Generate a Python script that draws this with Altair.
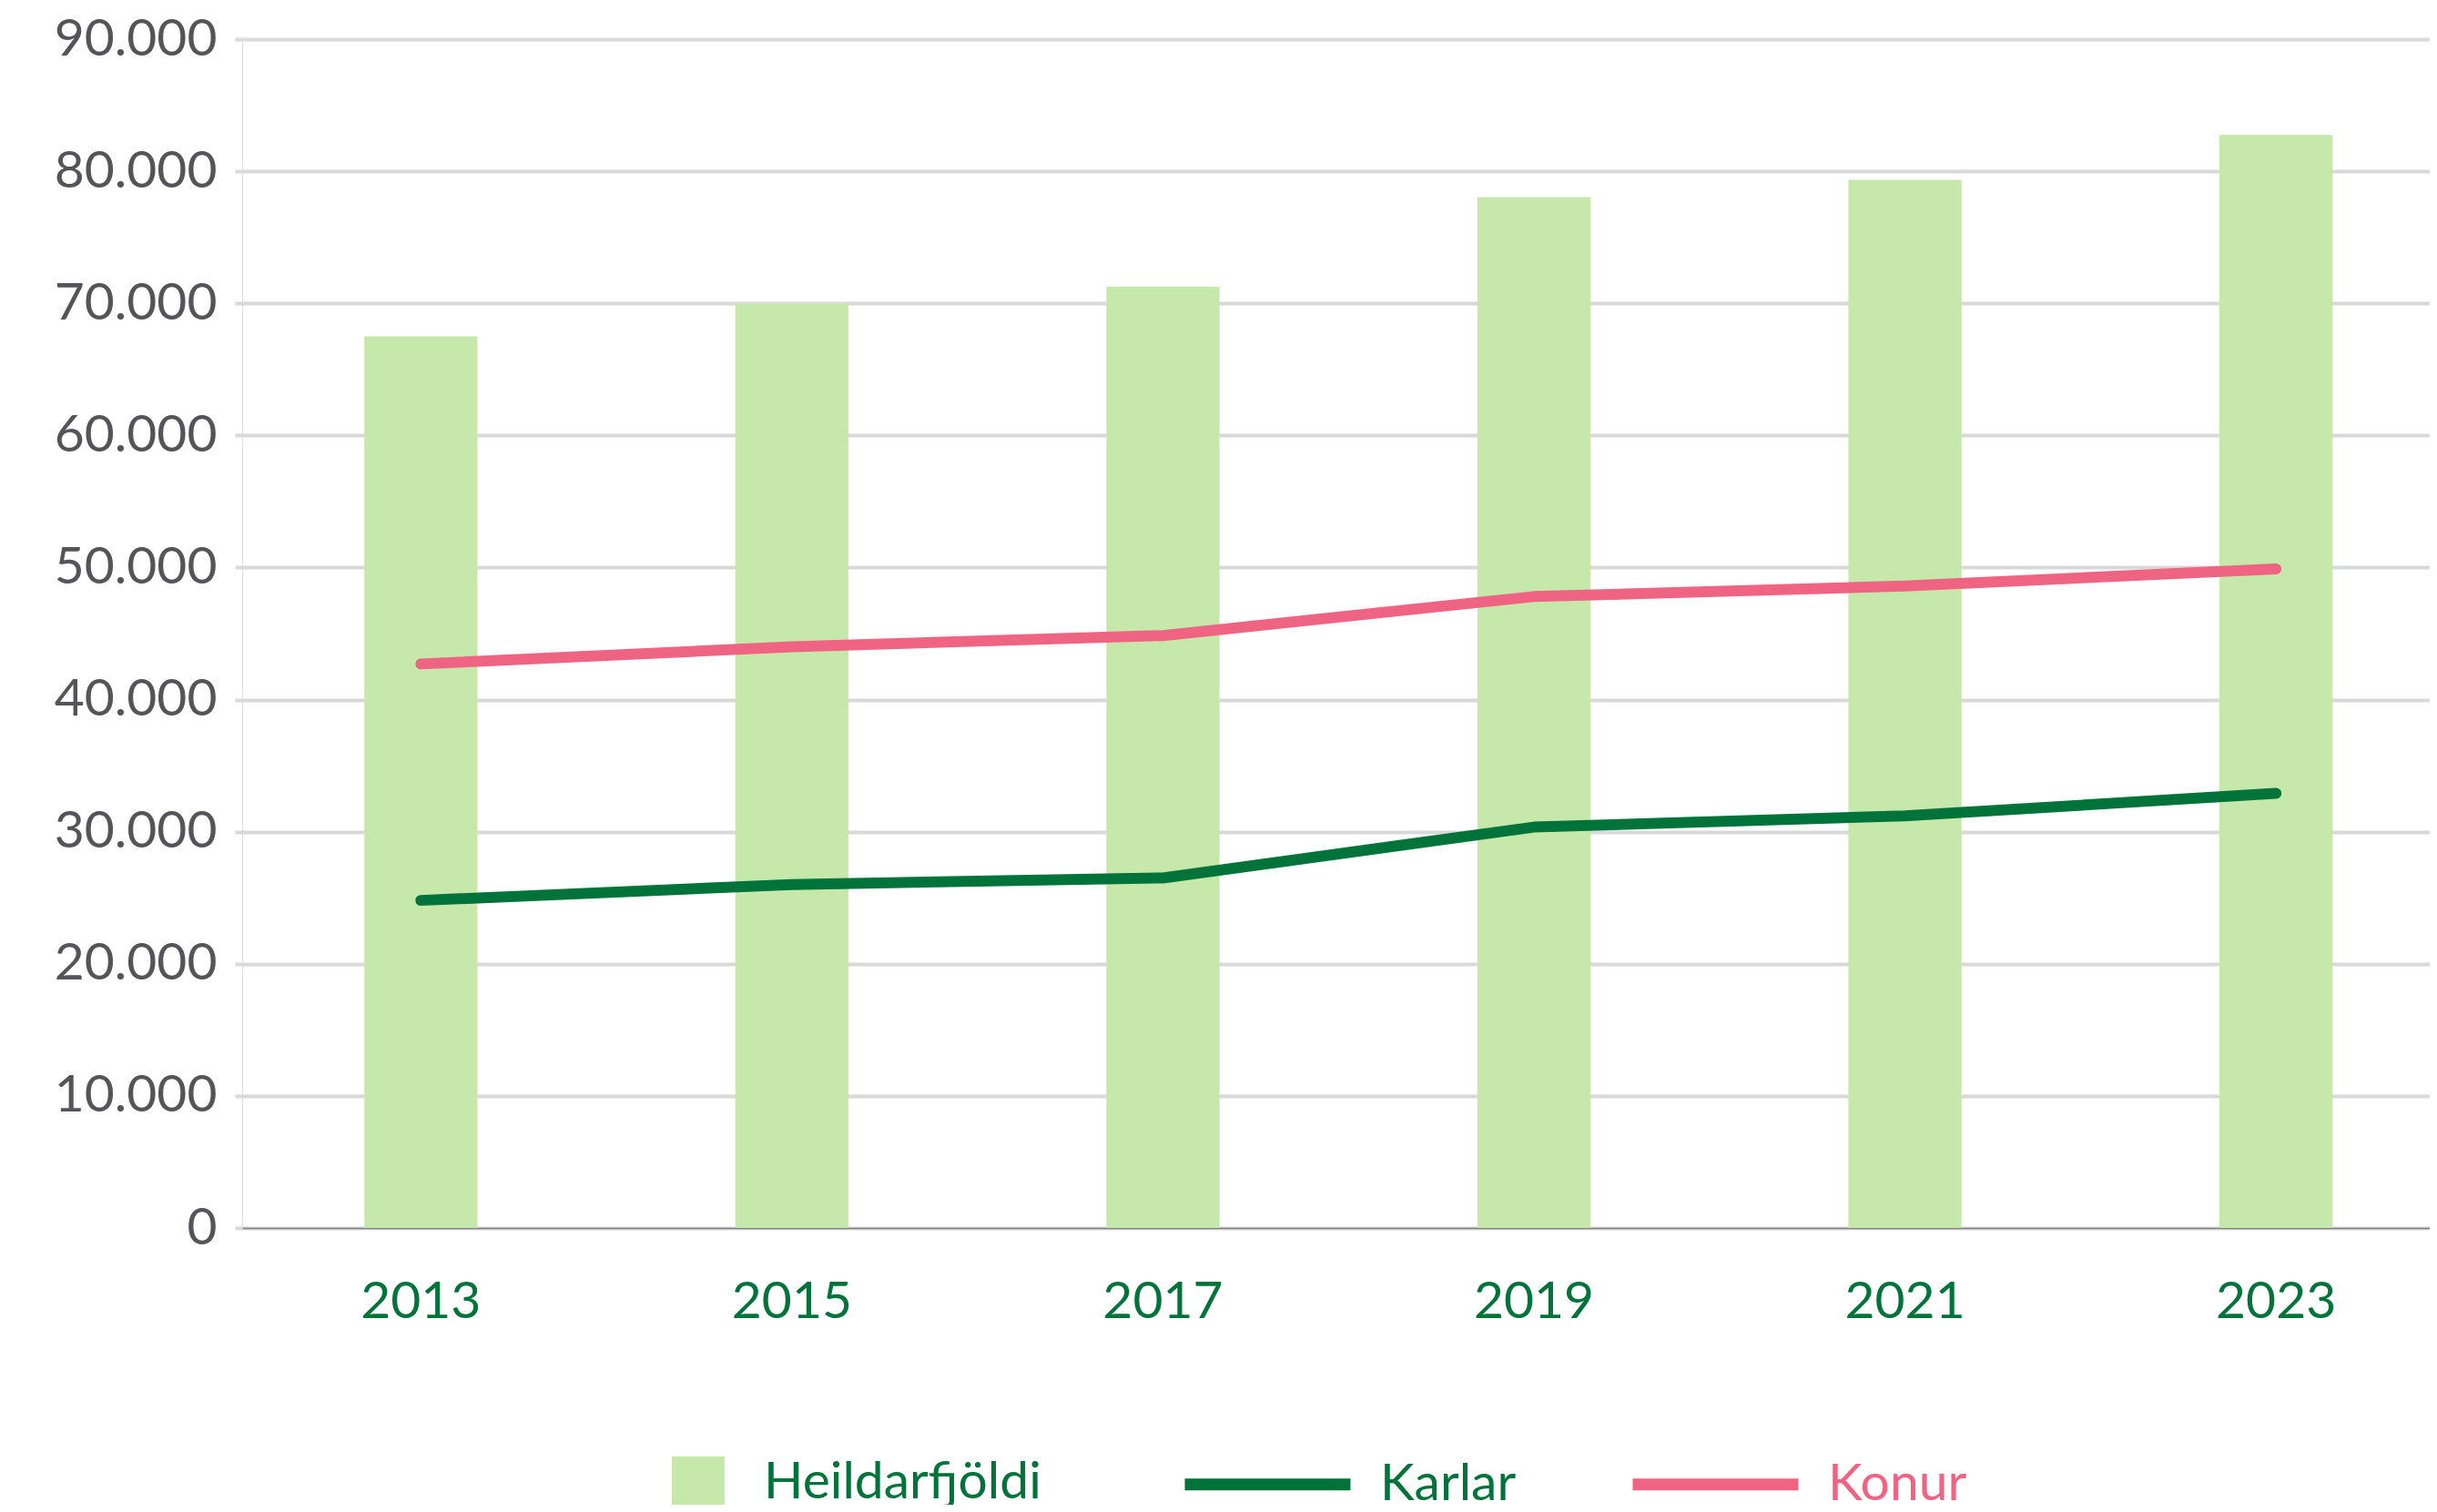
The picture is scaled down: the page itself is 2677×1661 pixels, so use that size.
import altair as alt
import pandas as pd

# ---- data ----
years = ["2013", "2015", "2017", "2019", "2021", "2023"]
total = [67500, 69950, 71250, 78050, 79350, 82750]      # Heildarfjöldi (bars)
karlar = [24800, 26000, 26500, 30350, 31200, 32900]     # Karlar (line)
konur = [42700, 44000, 44850, 47800, 48600, 49900]      # Konur (line)
y_ticks = [0, 10000, 20000, 30000, 40000, 50000, 60000, 70000, 80000, 90000]

GREEN = "#00733a"
PINK = "#ef6482"
BAR = "#c7e8ab"
GRID = "#d9d9d9"
FONT = "Lato"
FS = 57

bars_df = pd.DataFrame({"Ár": years, "Fjöldi": total, "Flokkur": ["Heildarfjöldi"] * len(years)})
lines_df = pd.DataFrame({
    "Ár": years + years,
    "Fjöldi": karlar + konur,
    "Kyn": ["Karlar"] * len(years) + ["Konur"] * len(years),
})

x_scale = alt.Scale(domain=years, paddingInner=0.695, paddingOuter=0.2955, align=0.557)
y_scale = alt.Scale(domain=[0, 90000], nice=False)

x_axis = alt.Axis(
    title=None, labelAngle=0, labelColor=GREEN, labelFont=FONT, labelFontSize=FS,
    ticks=False, grid=False, domainColor="#7f7f7f", domainWidth=1.7, labelPadding=53,
)
y_axis = alt.Axis(
    title=None, values=y_ticks,
    labelExpr="replace(format(datum.value, ','), ',', '.')",
    labelColor="#545459", labelFont=FONT, labelFontSize=FS, labelPadding=20,
    domain=False, tickColor=GRID, tickSize=8, tickWidth=4,
    gridColor=GRID, gridWidth=4,
)

bars = alt.Chart(bars_df).mark_bar().encode(
    x=alt.X("Ár:N", scale=x_scale, axis=x_axis, sort=years),
    y=alt.Y("Fjöldi:Q", scale=y_scale, axis=y_axis),
    fill=alt.Fill(
        "Flokkur:N",
        scale=alt.Scale(domain=["Heildarfjöldi"], range=[BAR]),
        legend=alt.Legend(
            title=None, orient="none", legendX=472, legendY=1557, padding=0,
            symbolType="square", symbolSize=58 * 58, symbolStrokeWidth=0,
            labelFont=FONT, labelFontSize=FS, labelColor=GREEN, labelOffset=43,
            labelLimit=800,
        ),
    ),
)

lines = alt.Chart(lines_df).mark_line(strokeWidth=12, strokeCap="round", strokeJoin="round").encode(
    x=alt.X("Ár:N", scale=x_scale, axis=x_axis, sort=years),
    y=alt.Y("Fjöldi:Q", scale=y_scale, axis=y_axis),
    stroke=alt.Stroke(
        "Kyn:N",
        scale=alt.Scale(domain=["Karlar", "Konur"], range=[GREEN, PINK]),
        legend=alt.Legend(
            title=None, orient="none", legendX=1029, legendY=1490, padding=0,
            direction="horizontal", symbolType="stroke", symbolSize=182 * 182,
            symbolStrokeWidth=13, labelFont=FONT, labelFontSize=FS,
            labelColor={"expr": "datum.label == 'Konur' ? '#ef6482' : '#00733a'"},
            labelOffset=26, columnPadding=101, labelLimit=800,
        ),
    ),
)

chart = alt.layer(bars, lines).properties(
    width=2403,
    height=1306,
    autosize=alt.AutoSizeParams(type="none"),
    padding={"left": 258, "top": 35, "right": 0, "bottom": 304},
).configure_view(stroke=None).configure(background="white")

chart.save("out.html", embed_options={"renderer": "svg", "actions": False})
